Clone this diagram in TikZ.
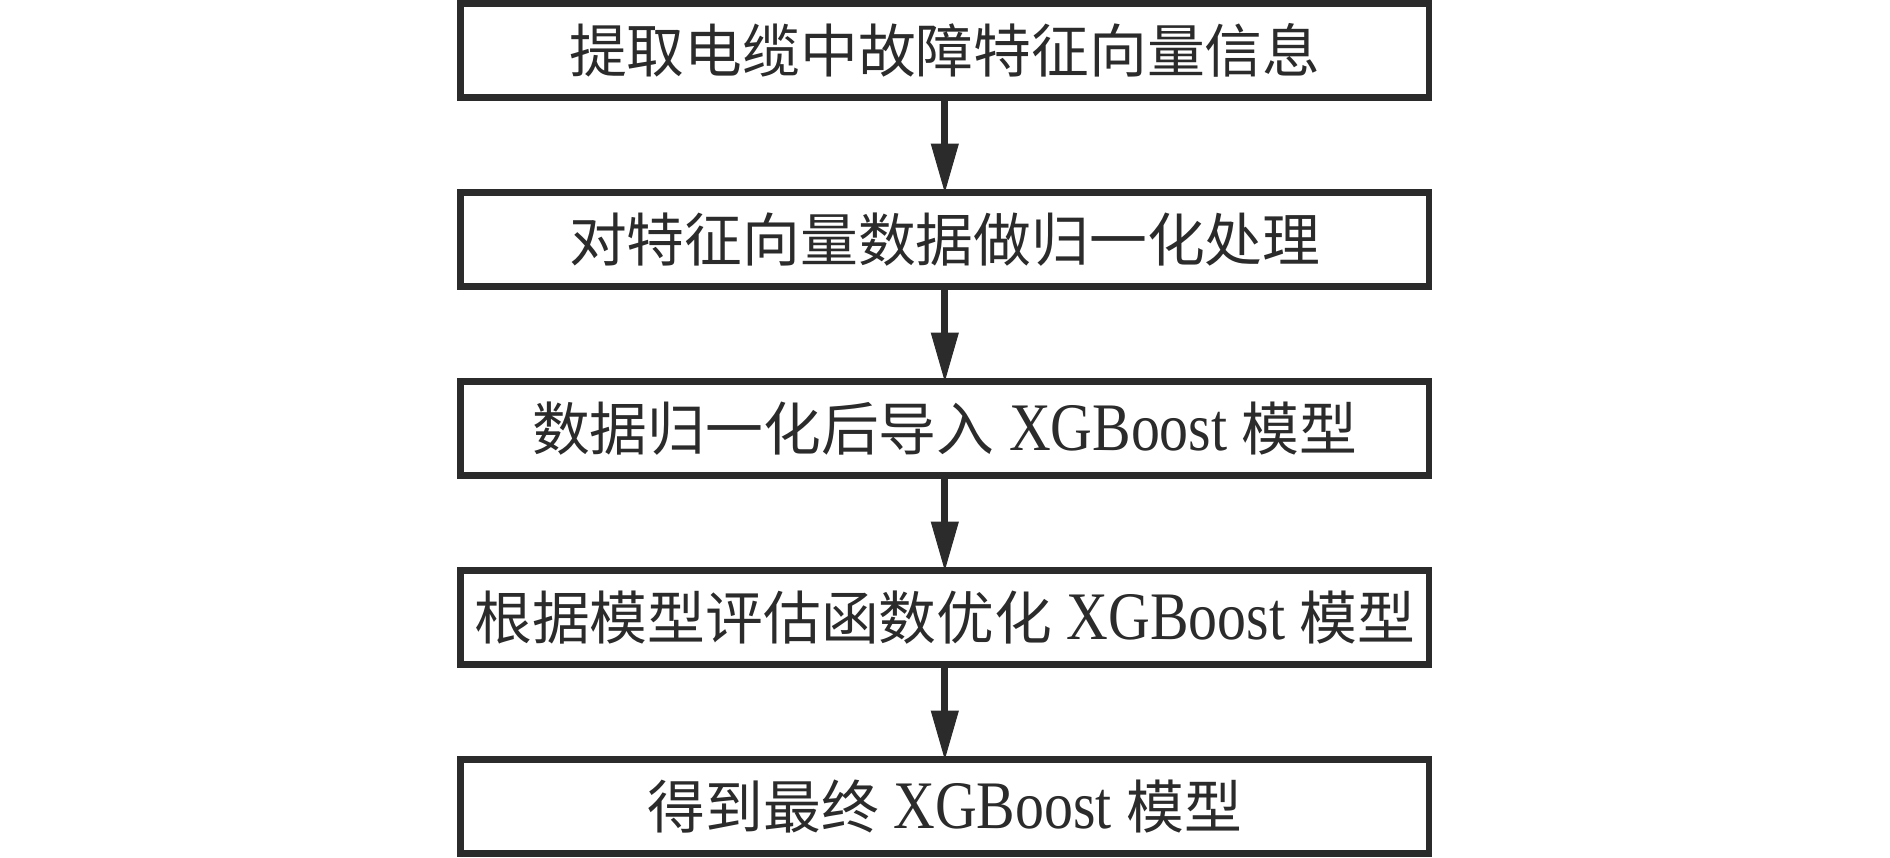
\documentclass[tikz,border=0pt]{standalone}
\usepackage{fontspec}
\setmainfont{Liberation Serif}[FakeStretch=0.85]
\newfontfamily\cjk{Noto Sans CJK SC}[Scale=0.85]
\usetikzlibrary{positioning,arrows.meta}
\definecolor{linec}{HTML}{2B2B2B}
\tikzset{
  stepbox/.style={draw=linec, text=linec, line width=3.2pt, minimum width=484.25pt,
    minimum height=47pt, inner sep=0pt, outer sep=0pt, font=\fontsize{34}{40}\selectfont},
  flow/.style={draw=linec, line width=3.5pt, -{Triangle[length=24.5pt,width=14pt,line width=0.5pt]}}
}
\begin{document}
\begin{tikzpicture}[node distance=47.5pt]
\useasboundingbox (0,0) rectangle (945pt,-428.5pt);
\node[stepbox] (extract) at (472.4pt,-25.25pt) {\cjk 提取电缆中故障特征向量信息};
\node[stepbox, below=of extract] (norm) {\cjk 对特征向量数据做归一化处理};
\node[stepbox, below=of norm] (load) {{\cjk 数据归一化后导入} XGBoost {\cjk 模型}};
\node[stepbox, below=of load] (tune) {{\cjk 根据模型评估函数优化} XGBoost {\cjk 模型}};
\node[stepbox, below=of tune] (final) {{\cjk 得到最终} XGBoost {\cjk 模型}};
\draw[flow] (extract) -- (norm);
\draw[flow] (norm) -- (load);
\draw[flow] (load) -- (tune);
\draw[flow] (tune) -- (final);
\end{tikzpicture}
\end{document}
